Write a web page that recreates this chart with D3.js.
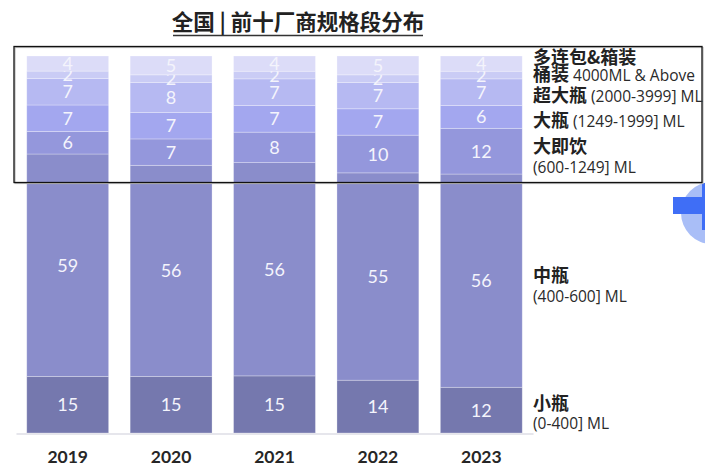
<!DOCTYPE html>
<html><head><meta charset="utf-8">
<script src="https://cdn.jsdelivr.net/npm/d3@7"></script>
<style>body{margin:0;background:#fff;}svg{display:block;}</style>
</head><body>
<svg id="c" width="705" height="476"></svg>
<script>
const years = ["2019","2020","2021","2022","2023"];
const keys = ["small","mid","rtd","large","xlarge","bucket","multi"];
const small  = [15,15,15,14,12];
const mid    = [59,56,56,55,56];
const rtd    = [6,7,8,10,12];
const large  = [7,7,7,7,6];
const xlarge = [7,8,7,7,7];
const bucket = [2,2,2,2,2];
const multi  = [4,5,4,5,4];
const seriesVals = {small, mid, rtd, large, xlarge, bucket, multi};
const colors = {small:"#7578AE", mid:"#8A8DCB", rtd:"#9497DC", large:"#A3A7EF", xlarge:"#B6B9F2", bucket:"#CACCF5", multi:"#DCDCF8"};
const title = "全国 | 前十厂商规格段分布";

const table = years.map((y,i)=>{const o={year:y}; keys.forEach(k=>o[k]=seriesVals[k][i]); return o;});
const stack = d3.stack().keys(keys).offset(d3.stackOffsetExpand)(table);

const svg = d3.select("#c");
const x = d3.scaleBand().domain(years).range([16,533]).paddingInner(0.208).paddingOuter(0.104);
const y = d3.scaleLinear().domain([0,1]).range([433,56]);

// decoration
svg.append("circle").attr("cx",712).attr("cy",213).attr("r",31).attr("fill","#A9BEF7");
svg.append("rect").attr("x",673).attr("y",197).attr("width",32).attr("height",17).attr("fill","#3F6EF6");
svg.append("rect").attr("x",702).attr("y",183).attr("width",3).attr("height",47).attr("fill","#3F6EF6");

// title
svg.append("text").attr("x",298).attr("y",30).attr("text-anchor","middle")
  .attr("font-family","'Noto Sans CJK SC', sans-serif").attr("font-weight",700)
  .attr("font-size",21.5).attr("fill","#222").text(title);
svg.append("line").attr("x1",173).attr("x2",423).attr("y1",35.5).attr("y2",35.5)
  .attr("stroke","#333").attr("stroke-width",1.6);

// bars
const g = svg.append("g");
stack.forEach(s=>{
  const k = s.key;
  g.selectAll(null).data(s).join("rect")
    .attr("x",d=>x(d.data.year)).attr("width",x.bandwidth())
    .attr("y",d=>y(d[1])).attr("height",d=>y(d[0])-y(d[1]))
    .attr("fill",colors[k]).attr("stroke","rgba(255,255,255,0.35)").attr("stroke-width",0.8);
  g.selectAll(null).data(s).join("text")
    .attr("x",d=>x(d.data.year)+x.bandwidth()/2)
    .attr("y",d=>(y(d[0])+y(d[1]))/2)
    .attr("dy","0.36em").attr("text-anchor","middle")
    .attr("font-family","Lato, 'Open Sans', sans-serif").attr("font-weight",400)
    .attr("font-size",18).attr("fill","#F4F4FC")
    .text(d=>d.data[k]);
});

// axis
const ax = svg.append("g").attr("transform","translate(0,433.5)")
  .call(d3.axisBottom(x).tickSize(0).tickPadding(17).tickSizeOuter(0));
ax.select(".domain").attr("stroke","#E6E6EC").attr("stroke-width",2);
ax.selectAll(".tick text").attr("font-family","Lato, 'Open Sans', sans-serif")
  .attr("font-weight",700).attr("font-size",17.5).attr("fill","#262626");

// box
svg.append("rect").attr("x",15).attr("y",47.5).attr("width",688).attr("height",136)
  .attr("fill","none").attr("stroke","#bbb").attr("stroke-width",1.2);
svg.append("rect").attr("x",14).attr("y",46.5).attr("width",688).attr("height",136)
  .attr("fill","none").attr("stroke","#111").attr("stroke-width",1.3);

// legend
const legend = [
  {y:64, cn:"多连包&箱装", en:""},
  {y:81, cn:"桶装", en:" 4000ML & Above"},
  {y:102, cn:"超大瓶", en:" (2000-3999] ML"},
  {y:127, cn:"大瓶", en:" (1249-1999] ML"},
  {y:153, cn:"大即饮", en:""},
  {y:173, cn:"", en:"(600-1249] ML"},
  {y:282, cn:"中瓶", en:""},
  {y:302, cn:"", en:"(400-600] ML"},
  {y:410, cn:"小瓶", en:""},
  {y:429, cn:"", en:"(0-400] ML"}
];
legend.forEach(l=>{
  const t = svg.append("text").attr("x",533).attr("y",l.y).attr("fill","#222");
  if(l.cn) t.append("tspan").attr("font-family","'Noto Sans CJK SC', sans-serif")
    .attr("font-weight",700).attr("font-size",18).text(l.cn);
  if(l.en) t.append("tspan").attr("font-family","'Open Sans', sans-serif")
    .attr("font-size",15.5).attr("fill","#2a2a2a").text(l.en);
});
</script>
</body></html>
